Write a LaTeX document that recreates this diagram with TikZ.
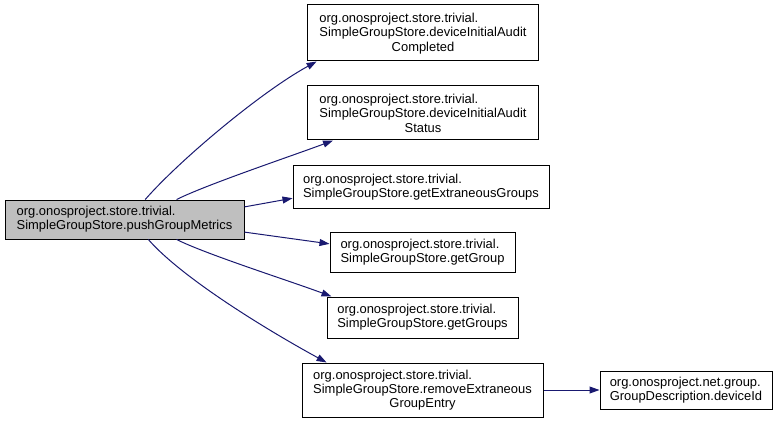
\documentclass[tikz,border=0pt]{standalone}
\usepackage{fontspec}
\setmainfont{Liberation Sans}
\usetikzlibrary{arrows.meta}
\definecolor{edgeblue}{RGB}{25, 25, 112}
\definecolor{maingray}{RGB}{191, 191, 191}
\newcommand{\leftpair}[2]{\begin{tabular}{@{}l@{}}#1\\#2\end{tabular}}
\tikzset{
  fn/.style={draw=black, line width=0.75pt, inner sep=0pt, align=left,
             font=\fontsize{9.7}{10.5}\selectfont},
  fnmain/.style={fn, fill=maingray},
  call/.style={edgeblue, line width=0.75pt,
               -{Triangle[length=7.5pt, width=5.2pt]}},
}
\begin{document}
\begin{tikzpicture}[x=0.75pt, y=-0.75pt]
    \useasboundingbox (0,0) rectangle (781,424);

    %% caller
    \node[fnmain, minimum width=179.25pt, minimum height=29.25pt]
      (push) at (124.5,219.5)
      {org.onosproject.store.trivial.\\SimpleGroupStore.pushGroupMetrics};

    %% callees
    \node[fn, align=center, minimum width=173.25pt, minimum height=42pt]
      (auditdone) at (423,33)
      {\leftpair{org.onosproject.store.trivial.}{SimpleGroupStore.deviceInitialAudit}\\Completed};
    \node[fn, align=center, minimum width=173.25pt, minimum height=40.5pt]
      (auditstatus) at (423,113)
      {\leftpair{org.onosproject.store.trivial.}{SimpleGroupStore.deviceInitialAudit}\\Status};
    \node[fn, minimum width=192pt, minimum height=31.5pt]
      (extraneous) at (421,187)
      {org.onosproject.store.trivial.\\SimpleGroupStore.getExtraneousGroups};
    \node[fn, minimum width=138.75pt, minimum height=30pt]
      (getgroup) at (422.5,252)
      {org.onosproject.store.trivial.\\SimpleGroupStore.getGroup};
    \node[fn, minimum width=143.25pt, minimum height=30.75pt]
      (getgroups) at (422.5,317.5)
      {org.onosproject.store.trivial.\\SimpleGroupStore.getGroups};
    \node[fn, align=center, minimum width=180.75pt, minimum height=40.5pt]
      (removeentry) at (422.5,390)
      {\leftpair{org.onosproject.store.trivial.}{SimpleGroupStore.removeExtraneous}\\GroupEntry};
    \node[fn, minimum width=129pt, minimum height=28.5pt]
      (deviceid) at (686,390)
      {org.onosproject.net.group.\\GroupDescription.deviceId};

    %% calls
    \draw[call] (push.44) .. controls +(35,-40) and +(-55,30) .. (auditdone.195);
    \draw[call] (push.21) .. controls +(30,-15) and +(-40,15) .. (auditstatus.197);
    \draw[call] (push.6) -- (extraneous.185);
    \draw[call] (push.-6) -- (getgroup.175);
    \draw[call] (push.-21) .. controls +(30,15) and +(-40,-15) .. (getgroups.167);
    \draw[call] (push.-40) .. controls +(35,40) and +(-55,-30) .. (removeentry.164);
    \draw[call] (removeentry) -- (deviceid);
  \end{tikzpicture}
\end{document}
